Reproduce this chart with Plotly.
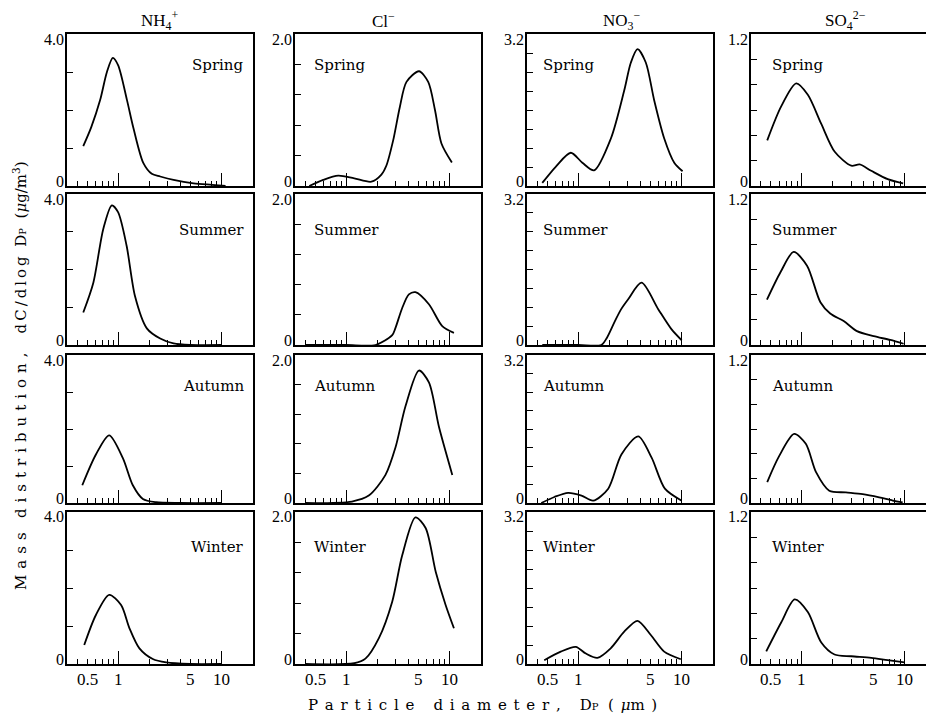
import math
import plotly.graph_objects as go

# ---------------- data ----------------
ions = ["NH<sub>4</sub><sup>+</sup>", "Cl<sup>−</sup>", "NO<sub>3</sub><sup>−</sup>", "SO<sub>4</sub><sup>2−</sup>"]
seasons = ["Spring", "Summer", "Autumn", "Winter"]
y_max = [4.0, 2.0, 3.2, 1.2]
y_step = [1.0, 0.4, 0.4, 0.2]
y_top_labels = ["4.0", "2.0", "3.2", "1.2"]
y_zero_label = "0"
x_label_vals = [0.5, 1, 5, 10]
x_label_text = ["0.5", "1", "5", "10"]
x_long_ticks = [1, 10]
x_short_ticks = [0.4, 0.5, 0.6, 0.7, 0.8, 0.9, 2, 3, 4, 5, 6, 7, 8, 9]

# NH4+
nh4_spring_d = [0.46, 0.55, 0.67, 0.78, 0.89, 1.0, 1.22, 1.41, 1.76, 2.12, 2.56, 3.45, 5.4, 8.1, 11.0]
nh4_spring_v = [1.05, 1.55, 2.26, 3.0, 3.37, 3.18, 2.26, 1.52, 0.6, 0.32, 0.25, 0.16, 0.07, 0.03, 0.0]
nh4_summer_d = [0.46, 0.576, 0.72, 0.87, 1.0, 1.21, 1.46, 1.9, 2.56, 3.45, 5.0, 10.0]
nh4_summer_v = [0.86, 1.65, 3.08, 3.70, 3.52, 2.63, 1.29, 0.44, 0.17, 0.04, 0.0, 0.0]
nh4_autumn_d = [0.45, 0.61, 0.82, 1.11, 1.39, 1.74, 2.34, 4.0, 10.0]
nh4_autumn_v = [0.48, 1.31, 1.83, 1.22, 0.48, 0.11, 0.02, 0.0, 0.0]
nh4_winter_d = [0.47, 0.61, 0.82, 1.07, 1.29, 1.61, 2.17, 2.93, 5.0, 10.0]
nh4_winter_v = [0.5, 1.29, 1.82, 1.55, 0.94, 0.41, 0.13, 0.04, 0.0, 0.0]

# Cl-
cl_spring_d = [0.44, 0.6, 0.84, 1.2, 1.76, 2.2, 2.46, 2.86, 3.32, 3.85, 5.09, 6.25, 7.27, 8.4, 10.6]
cl_spring_v = [0.0, 0.08, 0.136, 0.1, 0.057, 0.15, 0.27, 0.6, 1.04, 1.37, 1.51, 1.37, 1.0, 0.56, 0.31]
cl_summer_d = [0.4, 1.0, 1.93, 2.8, 3.0, 3.5, 4.06, 4.7, 6.35, 8.55, 11.1]
cl_summer_v = [0.0, 0.0, 0.0, 0.13, 0.22, 0.49, 0.67, 0.70, 0.54, 0.25, 0.16]
cl_autumn_d = [0.4, 1.14, 1.66, 2.41, 3.01, 3.77, 5.08, 6.35, 7.94, 10.7]
cl_autumn_v = [0.0, 0.02, 0.10, 0.38, 0.75, 1.31, 1.79, 1.63, 1.03, 0.38]
cl_winter_d = [0.4, 1.2, 1.54, 2.08, 2.8, 3.5, 4.7, 5.9, 7.4, 9.2, 11.1]
cl_winter_v = [0.0, 0.01, 0.07, 0.34, 0.82, 1.43, 1.93, 1.79, 1.21, 0.78, 0.47]

# NO3-
no3_spring_d = [0.45, 0.61, 0.85, 1.1, 1.43, 2.08, 2.8, 3.25, 3.77, 4.53, 5.47, 6.84, 8.55, 10.3]
no3_spring_v = [0.065, 0.41, 0.7, 0.49, 0.33, 1.0, 2.01, 2.6, 2.88, 2.6, 1.8, 1.0, 0.49, 0.31]
no3_summer_d = [0.45, 1.0, 1.68, 1.9, 2.27, 2.6, 3.06, 4.12, 5.98, 8.06, 10.1]
no3_summer_v = [0.0, 0.0, 0.0, 0.15, 0.5, 0.75, 0.97, 1.32, 0.76, 0.33, 0.1]
no3_autumn_d = [0.44, 0.59, 0.8, 1.08, 1.4, 1.96, 2.63, 3.83, 5.16, 6.94, 10.1]
no3_autumn_v = [0.0, 0.13, 0.22, 0.16, 0.05, 0.31, 1.05, 1.44, 0.98, 0.31, 0.05]
no3_winter_d = [0.47, 0.68, 0.95, 1.19, 1.54, 2.07, 2.8, 3.77, 5.07, 6.83, 9.9]
no3_winter_v = [0.08, 0.26, 0.36, 0.22, 0.13, 0.33, 0.68, 0.91, 0.61, 0.26, 0.1]

# SO4 2-
so4_spring_d = [0.46, 0.63, 0.88, 1.14, 1.54, 2.08, 3.01, 3.63, 4.7, 6.8, 9.6]
so4_spring_v = [0.36, 0.63, 0.81, 0.72, 0.49, 0.27, 0.16, 0.17, 0.12, 0.054, 0.02]
so4_summer_d = [0.457, 0.62, 0.83, 1.12, 1.51, 1.88, 2.54, 3.42, 4.97, 7.2, 9.7]
so4_summer_v = [0.36, 0.58, 0.74, 0.63, 0.34, 0.25, 0.19, 0.11, 0.07, 0.04, 0.01]
so4_autumn_d = [0.46, 0.6, 0.84, 1.09, 1.37, 1.84, 2.67, 3.88, 5.62, 7.6, 9.5]
so4_autumn_v = [0.17, 0.38, 0.56, 0.48, 0.25, 0.10, 0.086, 0.072, 0.046, 0.02, 0.005]
so4_winter_d = [0.45, 0.63, 0.85, 1.14, 1.54, 2.07, 3.01, 4.71, 6.8, 9.9]
so4_winter_v = [0.10, 0.33, 0.51, 0.41, 0.17, 0.075, 0.061, 0.048, 0.03, 0.013]

curves = [
    [(nh4_spring_d, nh4_spring_v), (cl_spring_d, cl_spring_v), (no3_spring_d, no3_spring_v), (so4_spring_d, so4_spring_v)],
    [(nh4_summer_d, nh4_summer_v), (cl_summer_d, cl_summer_v), (no3_summer_d, no3_summer_v), (so4_summer_d, so4_summer_v)],
    [(nh4_autumn_d, nh4_autumn_v), (cl_autumn_d, cl_autumn_v), (no3_autumn_d, no3_autumn_v), (so4_autumn_d, so4_autumn_v)],
    [(nh4_winter_d, nh4_winter_v), (cl_winter_d, cl_winter_v), (no3_winter_d, no3_winter_v), (so4_winter_d, so4_winter_v)],
]

# ---------------- layout geometry (window pixels) ----------------
OFF = 8                      # page body margin
W, H = 934 - OFF, 720 - OFF  # figure size so that it fits the window
col_px = [(67, 253), (295, 481), (527, 713), (751, 934)]
row_px = [(34, 186), (194, 345), (355, 503), (512, 664)]
x_range = [math.log10(0.32), math.log10(20.3)]
title_x_px = [160, 383, 622, 845]
season_y_px = [65, 230, 386, 547]
season_x_px = [(246, "right"), (312, "left"), (541, "left"), (770, "left")]

SERIF = "Liberation Serif, DejaVu Serif, serif"
SERIF2 = "DejaVu Serif, Liberation Serif, serif"


def px_x(p):
    return (p - OFF) / W


def px_y(p):
    return 1 - (p - OFF) / H


def spaced(s, sep):
    return sep.join(list(s))


fig = go.Figure()
layout = dict(
    width=W, height=H,
    margin=dict(l=0, r=0, t=0, b=0),
    paper_bgcolor="white", plot_bgcolor="white",
    showlegend=False,
    font=dict(family=SERIF, size=16, color="black"),
)
annotations = []

for r in range(4):
    for c in range(4):
        n = r * 4 + c + 1
        sfx = "" if n == 1 else str(n)
        d, v = curves[r][c]
        fig.add_trace(go.Scatter(
            x=d, y=v, mode="lines",
            line=dict(color="black", width=1.8, shape="spline", smoothing=0.8),
            xaxis="x" + sfx, yaxis="y" + sfx, hoverinfo="skip",
        ))
        x0, x1 = col_px[c]
        y0, y1 = row_px[r]
        xr = list(x_range)
        if c == 3:
            xr[1] = x_range[0] + (x1 - x0) / 103.0
        layout["xaxis" + sfx] = dict(
            domain=[px_x(x0), min(1.0, px_x(x1))], anchor="y" + sfx, type="log", range=xr,
            tickmode="array", tickvals=x_long_ticks, showticklabels=False,
            ticks="inside", ticklen=13, tickwidth=1.3, tickcolor="black",
            minor=dict(tickmode="array", tickvals=x_short_ticks, ticks="inside",
                       ticklen=5, tickwidth=1.1, tickcolor="black"),
            showline=True, linecolor="black", linewidth=1.6, mirror=True,
            showgrid=False, zeroline=False, automargin=False, fixedrange=True,
        )
        nt = int(round(y_max[c] / y_step[c]))
        tv = [round(k * y_step[c], 3) for k in range(nt + 1)]
        layout["yaxis" + sfx] = dict(
            domain=[px_y(y1), px_y(y0)], anchor="x" + sfx, range=[0, y_max[c]],
            tickmode="array", tickvals=tv, showticklabels=False,
            ticks="inside", ticklen=6, tickwidth=1.2, tickcolor="black",
            showline=True, linecolor="black", linewidth=1.6, mirror=(c != 3),
            showgrid=False, zeroline=False, automargin=False, fixedrange=True,
        )
        # y labels: "0" sits just above the base line, top value just below the top line
        annotations.append(dict(
            text=y_zero_label, xref="paper", yref="y" + sfx, x=px_x(x0 - 2), y=0,
            xanchor="right", yanchor="middle", yshift=5, showarrow=False, borderpad=0,
            font=dict(family=SERIF, size=16, color="black"),
        ))
        annotations.append(dict(
            text=y_top_labels[c], xref="paper", yref="y" + sfx, x=px_x(x0 - 2), y=y_max[c],
            xanchor="right", yanchor="middle", yshift=-5, showarrow=False, borderpad=0,
            font=dict(family=SERIF, size=16, color="black"),
        ))
        # season label
        sx, anc = season_x_px[c]
        annotations.append(dict(
            text=seasons[r], xref="paper", yref="paper",
            x=px_x(sx), y=px_y(season_y_px[r]), xanchor=anc, yanchor="middle",
            showarrow=False, font=dict(family=SERIF2, size=15, color="black"),
        ))
        # x tick labels (bottom row)
        if r == 3:
            for val, txt in zip(x_label_vals, x_label_text):
                annotations.append(dict(
                    text=txt, xref="x" + sfx, yref="paper",
                    x=math.log10(val), y=px_y(679), xanchor="center", yanchor="middle",
                    showarrow=False, font=dict(family=SERIF, size=17, color="black"),
                ))

# column titles
for c in range(4):
    annotations.append(dict(
        text=ions[c], xref="paper", yref="paper",
        x=px_x(title_x_px[c]), y=px_y(20), xanchor="center", yanchor="middle",
        showarrow=False, borderpad=0, font=dict(family=SERIF, size=17, color="black"),
    ))

# axis titles
nb = "\u00a0"
sep_x = "\u2005\u2009"
x_title = (spaced("Particle", sep_x) + nb * 4 + spaced("diameter,", sep_x) + nb * 4 +
           "D<span style='font-size:10px'>P</span>" + nb * 2 + spaced("(", sep_x) + sep_x + "<i>μ</i>" + spaced("m)", sep_x))
annotations.append(dict(
    text=x_title, xref="paper", yref="paper", x=px_x(483), y=px_y(705),
    xanchor="center", yanchor="middle", showarrow=False,
    font=dict(family=SERIF2, size=15, color="black"),
))
sep_y = "\u2009\u2009"
y_title = (spaced("Mass", sep_y) + nb * 3 + spaced("distribution,", sep_y) + nb * 4 +
           spaced("dC/dlog", "\u2009") + nb * 2 + "D<span style='font-size:10px'>P</span>" + nb * 2 +
           "(<i>μ</i>g/m<sup>3</sup>)")
annotations.append(dict(
    text=y_title, xref="paper", yref="paper", x=px_x(20), y=px_y(376),
    xanchor="center", yanchor="middle", textangle=-90, showarrow=False,
    font=dict(family=SERIF2, size=15, color="black"),
))

layout["annotations"] = annotations
fig.update_layout(**layout)
fig.write_html("out.html")
